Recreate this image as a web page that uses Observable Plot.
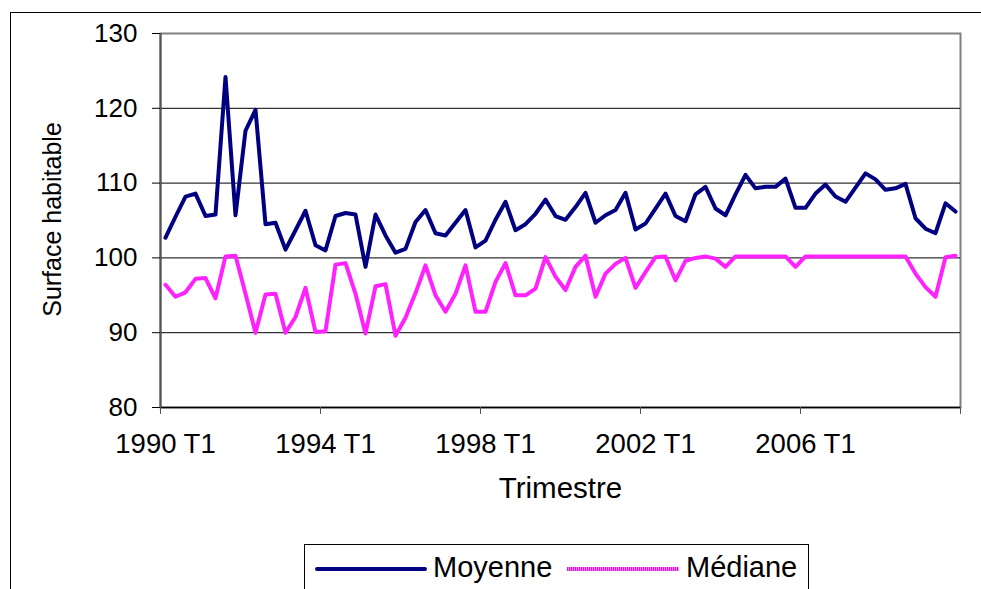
<!DOCTYPE html>
<html>
<head>
<meta charset="utf-8">
<script src="https://cdn.jsdelivr.net/npm/d3@7"></script>
<script src="https://cdn.jsdelivr.net/npm/@observablehq/plot@0.6"></script>
<style>
  html, body { margin: 0; padding: 0; background: #fff; }
  #chart {
    position: relative;
    width: 981px;
    height: 589px;
    overflow: hidden;
    font-family: "Liberation Sans", Arial, sans-serif;
  }
  #chart svg { position: absolute; left: 0; top: 0; }
  .outer-border {
    position: absolute;
    left: 10px;
    top: 12px;
    right: -5px;
    bottom: -5px;
    border-top: 1px solid #000;
    border-left: 1px solid #000;
    pointer-events: none;
  }
  .legend {
    position: absolute;
    left: 304px;
    top: 544px;
    width: 505px;
    height: 70px;
    border: 1px solid #000;
    box-sizing: border-box;
    background: #fff;
  }
  .legend .sw {
    position: absolute;
    top: 22px;
    height: 4px;
  }
  .legend .lbl {
    position: absolute;
    top: 4px;
    font-size: 29px;
    line-height: 36px;
    color: #000;
  }
</style>
</head>
<body>
<div id="chart"></div>
<script>
  // Quarterly categories 1990 T1 .. 2009 T4 (80 quarters).
  const years = d3.range(1990, 2010);
  const quarters = [];
  years.forEach(function (y) {
    [1, 2, 3, 4].forEach(function (q) { quarters.push(y + " T" + q); });
  });

  const tickLabels = ["1990 T1", "1994 T1", "1998 T1", "2002 T1", "2006 T1"];
  const yTicks = [80, 90, 100, 110, 120, 130];

  // Mean living surface per quarter.
  const moyenne = [
    102.7, 105.5, 108.2, 108.6, 105.6, 105.8, 124.2, 105.7,
    117.0, 119.8, 104.5, 104.7, 101.1, 103.7, 106.3, 101.7,
    101.0, 105.6, 106.0, 105.8, 98.8, 105.8, 103.0, 100.7,
    101.2, 104.8, 106.4, 103.3, 103.0, 104.7, 106.4, 101.4,
    102.3, 105.1, 107.5, 103.7, 104.5, 105.9, 107.8, 105.6,
    105.1, 106.8, 108.7, 104.7, 105.7, 106.4, 108.7, 103.8,
    104.6, 106.6, 108.6, 105.6, 104.9, 108.5, 109.5, 106.6,
    105.7, 108.5, 111.1, 109.3, 109.5, 109.5, 110.6, 106.7,
    106.7, 108.6, 109.8, 108.2, 107.5, 109.4, 111.3, 110.5,
    109.1, 109.3, 109.9, 105.3, 103.9, 103.3, 107.3, 106.2
  ];

  // Median living surface per quarter.
  const mediane = [
    96.4, 94.8, 95.4, 97.2, 97.3, 94.6, 100.2, 100.3,
    95.2, 90.0, 95.1, 95.2, 90.0, 92.1, 96.0, 90.1,
    90.2, 99.1, 99.3, 95.2, 89.9, 96.2, 96.5, 89.6,
    92.0, 95.3, 99.0, 95.0, 92.8, 95.2, 99.0, 92.8,
    92.8, 96.8, 99.3, 95.0, 95.0, 95.9, 100.1, 97.5,
    95.7, 98.8, 100.3, 94.8, 97.9, 99.2, 100.0, 96.0,
    98.1, 100.1, 100.2, 97.0, 99.6, 100.0, 100.2, 99.9,
    98.8, 100.2, 100.2, 100.2, 100.2, 100.2, 100.2, 98.8,
    100.2, 100.2, 100.2, 100.2, 100.2, 100.2, 100.2, 100.2,
    100.2, 100.2, 100.2, 97.9, 96.1, 94.8, 100.1, 100.3
  ];

  const NAVY = "#000080";
  const MAGENTA = "#ff00ff";

  const rowsMoy = quarters.map(function (q, i) { return { i: i, v: moyenne[i] }; });
  const rowsMed = quarters.map(function (q, i) { return { i: i, v: mediane[i] }; });

  // Category boundaries carry the tick marks; labels sit on category centres.
  const tickIdx = tickLabels.map(function (t) { return quarters.indexOf(t); });
  const boundaries = tickIdx.map(function (i) { return i - 0.5; }).concat([quarters.length - 0.5]);

  const svg = Plot.plot({
    width: 981,
    height: 540,
    marginLeft: 160,
    marginRight: 21,
    marginTop: 33,
    marginBottom: 133,
    style: {
      background: "transparent",
      color: "#000",
      fontFamily: "'Liberation Sans', Arial, sans-serif",
      overflow: "visible"
    },
    x: { type: "linear", domain: [-0.5, quarters.length - 0.5], axis: null },
    y: { domain: [80, 130], axis: null },
    marks: [
      // Plot-area border (grey) and gridlines (black).
      Plot.frame({ stroke: "#808080", strokeWidth: 2 }),
      Plot.ruleY(yTicks.slice(1, -1), { stroke: "#000", strokeWidth: 1 }),
      Plot.ruleY([80], { stroke: "#000", strokeWidth: 1.5 }),
      Plot.ruleX([-0.5], { stroke: "#555", strokeWidth: 2 }),
      Plot.axisY({
        ticks: yTicks,
        tickSize: 8,
        tickPadding: 15,
        fontSize: 26,
        tickFormat: function (d) { return String(d); },
        label: null,
        stroke: "#000"
      }),
      Plot.axisX({
        ticks: boundaries,
        tickSize: 7,
        tickFormat: function () { return ""; },
        label: null,
        stroke: "#555"
      }),
      Plot.text(tickLabels, {
        x: function (d) { return quarters.indexOf(d); },
        frameAnchor: "bottom",
        dy: 37,
        lineAnchor: "middle",
        fontSize: 27.5,
        fill: "#000"
      }),
      // Axis titles.
      Plot.text(["Trimestre"], {
        frameAnchor: "bottom",
        dy: 81,
        lineAnchor: "middle",
        fontSize: 29.5,
        fill: "#000"
      }),
      Plot.text(["Surface habitable"], {
        frameAnchor: "left",
        textAnchor: "middle",
        dx: -108,
        dy: -1,
        rotate: -90,
        lineAnchor: "middle",
        fontSize: 25,
        fill: "#000"
      }),
      // Series.
      Plot.line(rowsMed, {
        x: "i", y: "v",
        stroke: "url(#medPat)",
        strokeWidth: 4,
        strokeLinejoin: "round"
      }),
      Plot.line(rowsMoy, {
        x: "i", y: "v",
        stroke: NAVY,
        strokeWidth: 4,
        strokeLinejoin: "round"
      })
    ]
  });

  // Excel-style speckled magenta stroke.
  const defs = d3.select(svg).insert("defs", ":first-child");
  const pat = defs.append("pattern")
    .attr("id", "medPat")
    .attr("patternUnits", "userSpaceOnUse")
    .attr("width", 2)
    .attr("height", 2);
  pat.append("rect").attr("width", 2).attr("height", 2).attr("fill", MAGENTA);
  pat.append("rect").attr("width", 1).attr("height", 1).attr("fill", "#ff88ff");

  const chart = document.getElementById("chart");
  chart.appendChild(svg);

  const border = document.createElement("div");
  border.className = "outer-border";
  chart.appendChild(border);

  // Legend box below the plot (cut by the bottom edge as in the source).
  const legend = document.createElement("div");
  legend.className = "legend";
  const items = [
    { label: "Moyenne", sw: 10, lbl: 128, bg: NAVY },
    { label: "Médiane", sw: 262, lbl: 381,
      bg: "repeating-linear-gradient(90deg, #ff00ff 0 1px, #ff88ff 1px 2px)" }
  ];
  items.forEach(function (it) {
    const sw = document.createElement("span");
    sw.className = "sw";
    sw.style.left = it.sw + "px";
    sw.style.width = "112px";
    sw.style.background = it.bg;
    if (it.label === "Moyenne") sw.style.borderRadius = "2px";
    const lbl = document.createElement("span");
    lbl.className = "lbl";
    lbl.style.left = it.lbl + "px";
    lbl.textContent = it.label;
    legend.appendChild(sw);
    legend.appendChild(lbl);
  });
  chart.appendChild(legend);
</script>
</body>
</html>
